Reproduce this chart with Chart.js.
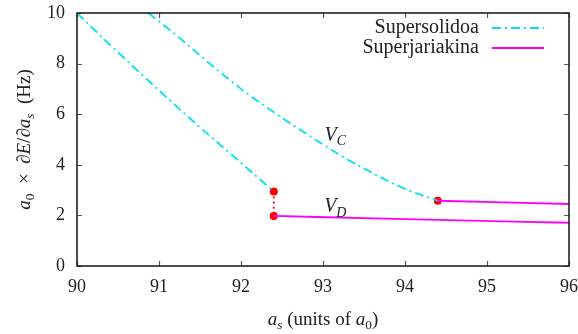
<!DOCTYPE html>
<html lang="en">
<head>
    <meta charset="UTF-8">
    <title>Supersolidoa / Superjariakina</title>
    <script src="https://cdn.jsdelivr.net/npm/chart.js"></script>
    <style>
        html, body { margin: 0; padding: 0; background: #fff; }
        #wrap { width: 578px; height: 334px; }
    </style>
</head>
<body>
    <div id="wrap"><canvas id="chart" width="578" height="334"></canvas></div>

    <script>
        // axis ticks
        const xTicks = [90, 91, 92, 93, 94, 95, 96];
        const yTicks = [0, 2, 4, 6, 8, 10];

        // Supersolidoa (two branches)
        const solidLowX = [90, 90.4, 90.8, 91.2, 91.6, 92.0, 92.4];
        const solidLowY = [10, 8.75, 7.54, 6.35, 5.2, 4.08, 2.94];
        const solidUpX = [90.87, 91.2, 91.6, 92.0, 92.4, 92.8, 93.2, 93.6, 94.0, 94.4];
        const solidUpY = [10, 9.15, 8.05, 7.0, 6.08, 5.22, 4.4, 3.68, 3.05, 2.58];

        // Superjariakina (two branches)
        const jarLowX = [92.4, 94, 96];
        const jarLowY = [1.98, 1.85, 1.71];
        const jarUpX = [94.4, 96];
        const jarUpY = [2.58, 2.45];

        // jump and transition points
        const jumpX = [92.4, 92.4];
        const jumpY = [2.94, 1.98];
        const dotX = [92.4, 92.4, 94.4];
        const dotY = [2.94, 1.98, 2.58];

        const CYAN = "#00e3ee";
        const MAGENTA = "#ff00ff";
        const RED = "#ff0000";
        const INK = "#222";
        const DASH = [9, 4, 2, 4];
        const SERIF = "'Liberation Serif', 'DejaVu Serif', serif";

        const pts = (xs, ys) => xs.map((x, i) => ({ x: x, y: ys[i] }));

        // rich text: [text, italic, sub]
        function richWidth(ctx, parts, size) {
            let w = 0;
            parts.forEach(p => {
                ctx.font = (p[1] ? "italic " : "") + (p[2] ? size * 0.7 : size) + "px " + SERIF;
                w += ctx.measureText(p[0]).width;
            });
            return w;
        }
        function drawRich(ctx, parts, x, y, size) {
            let cx = x - richWidth(ctx, parts, size) / 2;
            ctx.textAlign = "left";
            ctx.textBaseline = "alphabetic";
            parts.forEach(p => {
                ctx.font = (p[1] ? "italic " : "") + (p[2] ? size * 0.7 : size) + "px " + SERIF;
                ctx.fillText(p[0], cx, p[2] ? y + size * 0.22 : y);
                cx += ctx.measureText(p[0]).width;
            });
        }

        const decor = {
            id: "decor",
            afterDraw(chart) {
                const ctx = chart.ctx;
                const a = chart.chartArea;
                const xs = chart.scales.x, ys = chart.scales.y;
                ctx.save();

                // inward ticks on all four sides
                ctx.strokeStyle = "#555";
                ctx.lineWidth = 1.2;
                ctx.beginPath();
                xTicks.forEach(v => {
                    const px = Math.round(xs.getPixelForValue(v)) + 0.5;
                    ctx.moveTo(px, a.bottom); ctx.lineTo(px, a.bottom - 5);
                    ctx.moveTo(px, a.top); ctx.lineTo(px, a.top + 5);
                });
                yTicks.forEach(v => {
                    const py = Math.round(ys.getPixelForValue(v)) + 0.5;
                    ctx.moveTo(a.left, py); ctx.lineTo(a.left + 5, py);
                    ctx.moveTo(a.right, py); ctx.lineTo(a.right - 5, py);
                });
                ctx.stroke();

                // frame
                ctx.strokeStyle = INK;
                ctx.lineWidth = 1.6;
                ctx.strokeRect(a.left, a.top, a.right - a.left, a.bottom - a.top);

                // legend
                ctx.fillStyle = INK;
                ctx.font = "20px " + SERIF;
                ctx.textAlign = "right";
                ctx.textBaseline = "alphabetic";
                ctx.fillText("Supersolidoa", 479, 33);
                ctx.fillText("Superjariakina", 479, 53);
                ctx.lineWidth = 1.8;
                ctx.strokeStyle = CYAN;
                ctx.setLineDash(DASH);
                ctx.beginPath(); ctx.moveTo(492, 28); ctx.lineTo(544, 28); ctx.stroke();
                ctx.setLineDash([]);
                ctx.strokeStyle = MAGENTA;
                ctx.beginPath(); ctx.moveTo(492, 48); ctx.lineTo(544, 48); ctx.stroke();

                // curve labels
                ctx.fillStyle = INK;
                drawRich(ctx, [["V", true, false], ["C", true, true]],
                    xs.getPixelForValue(93.15), ys.getPixelForValue(4.95), 20);
                drawRich(ctx, [["V", true, false], ["D", true, true]],
                    xs.getPixelForValue(93.15), ys.getPixelForValue(2.13), 20);

                // axis titles
                drawRich(ctx, [["a", true, false], ["s", true, true], [" (units of ", false, false],
                    ["a", true, false], ["0", false, true], [")", false, false]],
                    (a.left + a.right) / 2, 325, 19);

                ctx.translate(30, (a.top + a.bottom) / 2);
                ctx.rotate(-Math.PI / 2);
                drawRich(ctx, [["a", true, false], ["0", false, true], ["  \u00d7  \u2202", false, false],
                    ["E", true, false], ["/\u2202", false, false], ["a", true, false], ["s", true, true],
                    ["  (Hz)", false, false]], 0, 0, 19);

                ctx.restore();
            }
        };

        const lineBase = { pointRadius: 0, fill: false, borderWidth: 1.8, cubicInterpolationMode: "monotone" };

        new Chart(document.getElementById("chart").getContext("2d"), {
            type: "line",
            data: {
                datasets: [
                    Object.assign({ label: "Supersolidoa", data: pts(solidLowX, solidLowY),
                        borderColor: CYAN, borderDash: DASH }, lineBase),
                    Object.assign({ label: "Supersolidoa", data: pts(solidUpX, solidUpY),
                        borderColor: CYAN, borderDash: DASH }, lineBase),
                    Object.assign({ label: "Superjariakina", data: pts(jarLowX, jarLowY),
                        borderColor: MAGENTA }, lineBase),
                    Object.assign({ label: "Superjariakina", data: pts(jarUpX, jarUpY),
                        borderColor: MAGENTA }, lineBase),
                    Object.assign({ label: "jump", data: pts(jumpX, jumpY),
                        borderColor: RED, borderDash: [2, 3] }, lineBase),
                    { label: "points", data: pts(dotX, dotY), showLine: false,
                        pointRadius: 4, pointBackgroundColor: RED, pointBorderWidth: 0 }
                ]
            },
            options: {
                responsive: false,
                animation: false,
                layout: { padding: { top: 13, right: 9, left: 0, bottom: 0 } },
                plugins: { legend: { display: false }, tooltip: { enabled: false } },
                scales: {
                    x: {
                        type: "linear", min: 90, max: 96,
                        grid: { display: false, drawTicks: false },
                        border: { display: false },
                        afterBuildTicks: s => { s.ticks = xTicks.map(v => ({ value: v })); },
                        afterFit: s => { s.height = 68; s.paddingLeft = 0; s.paddingRight = 0; },
                        ticks: { padding: 10, color: INK, font: { family: SERIF, size: 18 } }
                    },
                    y: {
                        min: 0, max: 10,
                        grid: { display: false, drawTicks: false },
                        border: { display: false },
                        afterBuildTicks: s => { s.ticks = yTicks.map(v => ({ value: v })); },
                        afterFit: s => { s.width = 77; s.paddingTop = 0; s.paddingBottom = 0; },
                        ticks: { padding: 12, color: INK, font: { family: SERIF, size: 18 } }
                    }
                }
            },
            plugins: [decor]
        });
    </script>
</body>
</html>
